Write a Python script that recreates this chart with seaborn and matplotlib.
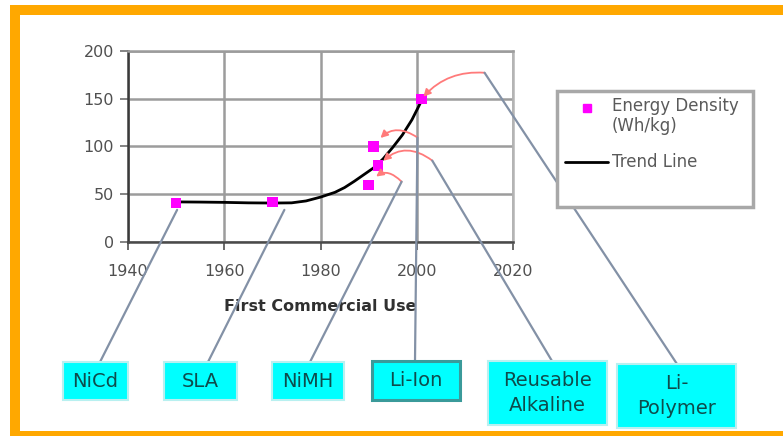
import matplotlib
matplotlib.use("Agg")
import matplotlib.pyplot as plt
from matplotlib.lines import Line2D
from matplotlib.patches import Rectangle
import seaborn as sns

# Battery chemistries: year of first commercial use and energy density (Wh/kg)
chemistries = ["NiCd", "SLA", "NiMH", "Li-Ion", "Reusable\nAlkaline", "Li-\nPolymer"]
first_use = [1950, 1970, 1990, 1991, 1992, 2001]
energy_density = [41, 42, 60, 100, 80, 150]

# Trend line through the years
trend_years = [1950, 1955, 1960, 1965, 1970, 1974, 1977, 1980, 1983, 1985,
               1987, 1989, 1991, 1993, 1995, 1997, 1999, 2001]
trend_values = [42, 41.8, 41.5, 41, 40.8, 41, 43, 47, 52, 57,
                63.5, 70.5, 77.5, 87, 99, 112, 128, 148]

x_ticks = [1940, 1960, 1980, 2000, 2020]
y_ticks = [0, 50, 100, 150, 200]

W, H = 783, 436
sns.set_theme(style="white")
plt.rcParams["font.family"] = ["DejaVu Sans"]

fig = plt.figure(figsize=(W / 100, H / 100), dpi=100)
fig.patch.set_facecolor("white")


def fx(px):
    return px / W


def fy(py):
    return 1 - py / H


ax = fig.add_axes([fx(128), fy(242), fx(513) - fx(128), fy(51) - fy(242)])
ax.set_facecolor("white")

sns.lineplot(x=trend_years, y=trend_values, color="black", lw=2, zorder=4, ax=ax)
sns.scatterplot(x=first_use, y=energy_density, marker="s", color="#ff00ff",
                s=55, edgecolor="none", zorder=5, ax=ax)

ax.set_xlim(1940, 2020)
ax.set_ylim(0, 200)
ax.set_xticks(x_ticks)
ax.set_yticks(y_ticks)
ax.set_xticklabels([str(t) for t in x_ticks], fontsize=11.5, color="#505050")
ax.set_yticklabels([str(t) for t in y_ticks], fontsize=11.5, color="#505050")
ax.tick_params(axis="x", length=6, width=1.2, color="#505050", pad=10, bottom=True)
ax.tick_params(axis="y", length=6, width=1.2, color="#707070", pad=4, left=True)
ax.grid(True, color="#9c9c9c", lw=1.8, zorder=0)
ax.set_axisbelow(True)
for side, col in [("left", "#3a3a3a"), ("bottom", "#4a4a4a"),
                  ("top", "#9c9c9c"), ("right", "#b4b4b4")]:
    ax.spines[side].set_visible(True)
    ax.spines[side].set_color(col)
    ax.spines[side].set_linewidth(1.8)
ax.set_xlabel("First Commercial Use", fontsize=11.5, fontweight="bold",
              color="#303030", labelpad=14)
ax.set_ylabel("")

# Annotation layout: label boxes (left, top, right, bottom in px),
# leader anchor on each box, and elbow offset from the point (px, y down)
boxes = [(63, 362, 128, 400), (164, 362, 237, 400), (272, 362, 344, 400),
         (372, 361, 460, 400), (488, 361, 607, 425), (617, 364, 736, 428)]
anchors = [(100, 362), (208, 362), (310, 362), (415, 361), (552, 361), (677, 364)]
elbows = [(1, 7), (12, 8), (33, -3), (44, -9), (54, -5), (63, -26)]
curved = [False, False, True, True, True, True]
rads = [0, 0, 0.6, 0.5, 0.45, 0.25]
shrinks = [0, 0, 8, 8, 5, 2]

fig.canvas.draw()
for i, name in enumerate(chemistries):
    px, py = ax.transData.transform((first_use[i], energy_density[i]))
    ox, oy = elbows[i]
    ex, ey = px + ox, py - oy  # display coords (y up)
    bx, by = anchors[i]
    fig.add_artist(Line2D([ex / W, fx(bx)], [ey / H, fy(by)],
                          transform=fig.transFigure, color="#8391a6", lw=1.6,
                          zorder=6))
    if curved[i]:
        ax.annotate("", xy=(first_use[i], energy_density[i]), xycoords="data",
                    xytext=(ox, -oy), textcoords="offset pixels",
                    arrowprops=dict(arrowstyle="-|>,head_length=0.35,head_width=0.18",
                                    color="#ff7a7a", lw=1.3,
                                    connectionstyle=f"arc3,rad={rads[i]}",
                                    shrinkA=0, shrinkB=shrinks[i]),
                    zorder=6)
    l, t, r, b = boxes[i]
    edge = "#3a9a9a" if name == "Li-Ion" else "#b8f0f0"
    lw = 2.2 if name == "Li-Ion" else 1.5
    fig.add_artist(Rectangle((fx(l), fy(b)), fx(r) - fx(l), fy(t) - fy(b),
                             transform=fig.transFigure, facecolor="#00ffff",
                             edgecolor=edge, lw=lw, zorder=7))
    fig.text(fx((l + r) / 2), fy((t + b) / 2), name, ha="center", va="center",
             fontsize=14, color="#0e4c4c", linespacing=1.35, zorder=8)

# Legend box with its two entries
fig.add_artist(Rectangle((fx(557), fy(207)), fx(753) - fx(557), fy(91) - fy(207),
                         transform=fig.transFigure, facecolor="white",
                         edgecolor="#a8a8a8", lw=2.5, zorder=7))
fig.add_artist(Line2D([fx(587)], [fy(108)], transform=fig.transFigure,
                      marker="s", color="#ff00ff", markersize=6, lw=0, zorder=8))
fig.text(fx(612), fy(97), "Energy Density\n(Wh/kg)", ha="left", va="top",
         fontsize=12, color="#5a5a5a", linespacing=1.15, zorder=8)
fig.add_artist(Line2D([fx(565), fx(608)], [fy(162), fy(162)],
                      transform=fig.transFigure, color="black", lw=2, zorder=8))
fig.text(fx(612), fy(162), "Trend Line", ha="left", va="center",
         fontsize=12, color="#5a5a5a", zorder=8)

# Orange frame
frame = "#ffa800"
for (l, t, r, b) in [(10, 5, W, 15), (10, 5, 20, 436), (10, 431, W, 436)]:
    fig.add_artist(Rectangle((fx(l), fy(b)), fx(r) - fx(l), fy(t) - fy(b),
                             transform=fig.transFigure, facecolor=frame,
                             edgecolor="none", zorder=9))

fig.savefig("out.png", dpi=100, facecolor="white")
